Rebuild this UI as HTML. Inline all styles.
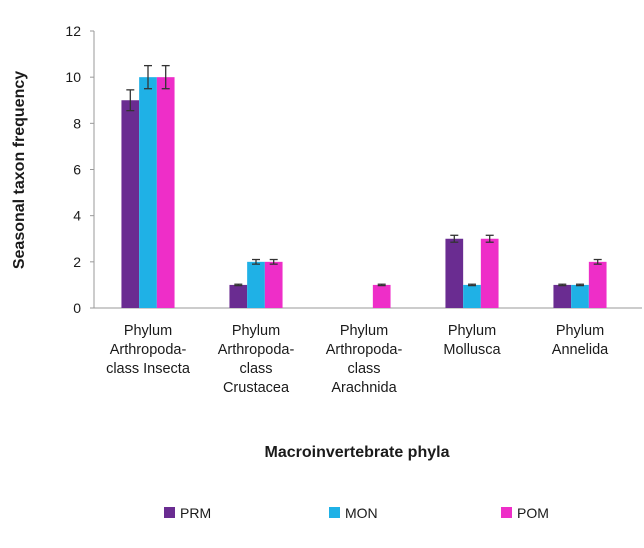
<!DOCTYPE html>
<html><head><meta charset="utf-8"><style>
body{margin:0;background:#fff;}
svg text{font-family:"Liberation Sans",sans-serif;fill:#1a1a1a;}
</style></head><body>
<svg id="chart" width="644" height="543">
<g id="axes"></g><g id="bars"></g>
<text transform="translate(24,170) rotate(-90)" text-anchor="middle" font-size="16" font-weight="bold">Seasonal taxon frequency</text>
<text x="357" y="457" text-anchor="middle" font-size="16" font-weight="bold">Macroinvertebrate phyla</text>
<g>
<rect x="164" y="507" width="11" height="11" fill="#6a2c91"/>
<text x="180" y="518" font-size="14">PRM</text>
<rect x="329" y="507" width="11" height="11" fill="#1fb1e6"/>
<text x="345" y="518" font-size="14">MON</text>
<rect x="501" y="507" width="11" height="11" fill="#ee2ec8"/>
<text x="517" y="518" font-size="14">POM</text>
</g>
</svg>
<script>
const categories=[["Phylum","Arthropoda-","class Insecta"],["Phylum","Arthropoda-","class","Crustacea"],["Phylum","Arthropoda-","class","Arachnida"],["Phylum","Mollusca"],["Phylum","Annelida"]];
const seriesNames=["PRM","MON","POM"];
const prm=[9,1,0,3,1];
const mon=[10,2,0,1,1];
const pom=[10,2,1,3,2];
const prmErr=[0.45,0.03,0,0.15,0.03];
const monErr=[0.5,0.1,0,0.03,0.03];
const pomErr=[0.5,0.1,0.03,0.15,0.1];
const yTicks=[0,2,4,6,8,10,12];
const colors=["#6a2c91","#1fb1e6","#ee2ec8"];
const NS="http://www.w3.org/2000/svg";
const x0=94,x1=642,y0=308,yTop=31,yMax=12;
const y=v=>y0-(v/yMax)*(y0-yTop);
const groupW=108,barW=17.7;
const gc=i=>148+i*groupW;
function mk(t,a,p){const e=document.createElementNS(NS,t);for(const k in a)e.setAttribute(k,a[k]);p.appendChild(e);return e;}
const ax=document.getElementById('axes'),bg=document.getElementById('bars');
let e=mk('line',{x1:x0,y1:yTop,x2:x0,y2:y0,stroke:'#999','stroke-width':1},ax);

e=mk('line',{x1:x0,y1:y0,x2:x1,y2:y0,stroke:'#999','stroke-width':1},ax);

yTicks.forEach(t=>{
 mk('line',{x1:x0-4,x2:x0,y1:y(t),y2:y(t),stroke:'#999'},ax);
 const tx=mk('text',{x:x0-13,y:y(t)+5,'text-anchor':'end','font-size':14},ax);tx.textContent=t;
 
 
});
categories.forEach((c,i)=>{
 const tx=mk('text',{x:gc(i),y:y0+27,'text-anchor':'middle','font-size':14.5},ax);
 
 
 c.forEach((l,j)=>{const s=mk('tspan',{x:gc(i),dy:j?19:0},tx);s.textContent=l;});
});
const vals=[prm,mon,pom],errs=[prmErr,monErr,pomErr];
categories.forEach((c,i)=>{
 vals.forEach((arr,s)=>{
  const v=arr[i];if(v<=0)return;
  const bx=gc(i)-1.5*barW+s*barW;
  const r=mk('rect',{x:bx,y:y(v),width:barW,height:y0-y(v),fill:colors[s]},bg);
  
  
  const er=errs[s][i],cx=bx+barW/2;
  const g=mk('g',{stroke:'#333','stroke-width':1.3},bg);
  
  
  mk('line',{x1:cx,x2:cx,y1:y(v+er),y2:y(v-er)},g);
  mk('line',{x1:cx-4,x2:cx+4,y1:y(v+er),y2:y(v+er)},g);
  mk('line',{x1:cx-4,x2:cx+4,y1:y(v-er),y2:y(v-er)},g);
 });
});
</script>
</body></html>
